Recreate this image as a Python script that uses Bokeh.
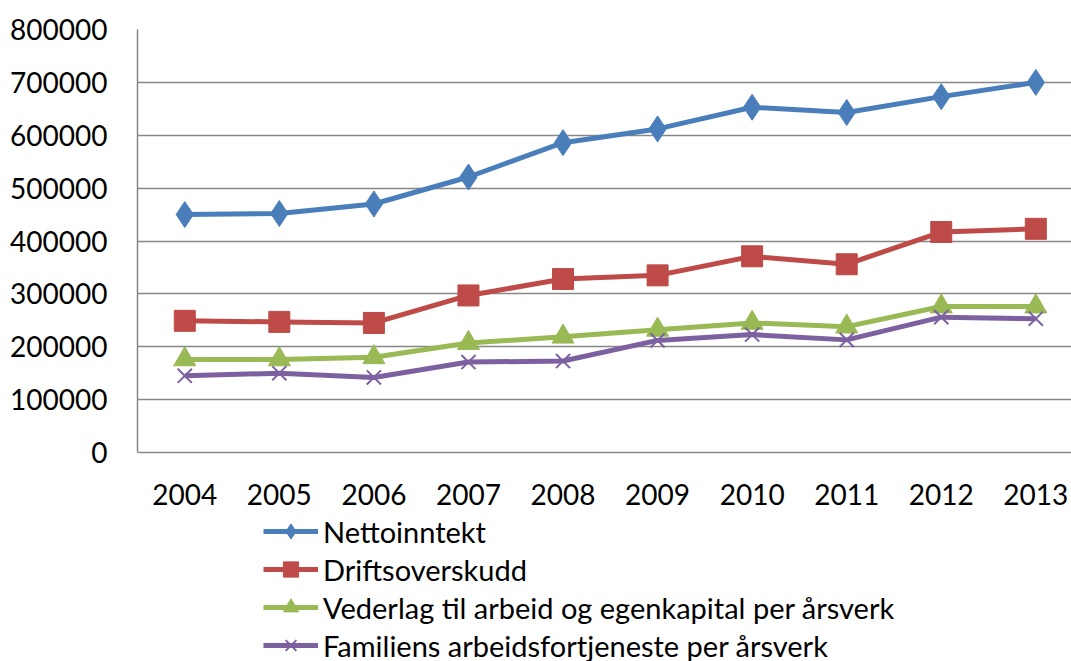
from bokeh.plotting import figure
from bokeh.models import Range1d, FixedTicker, NumeralTickFormatter, Legend, LegendItem, ColumnDataSource
from bokeh.core.properties import value
from bokeh.embed import file_html
from bokeh.resources import INLINE

years = [2004, 2005, 2006, 2007, 2008, 2009, 2010, 2011, 2012, 2013]
year_labels = ["2004", "2005", "2006", "2007", "2008", "2009", "2010", "2011", "2012", "2013"]
nettoinntekt = [450000, 452000, 470000, 521000, 586000, 612000, 653000, 643000, 673000, 700000]
driftsoverskudd = [249000, 247000, 245000, 297000, 328000, 335000, 371000, 356000, 417000, 423000]
vederlag = [176000, 176000, 180000, 207000, 219000, 232000, 245000, 238000, 276000, 276000]
familiens = [145000, 150000, 142000, 171000, 173000, 212000, 223000, 213000, 256000, 253000]
y_ticks = [0, 100000, 200000, 300000, 400000, 500000, 600000, 700000, 800000]

names = ["Nettoinntekt", "Driftsoverskudd",
         "Vederlag til arbeid og egenkapital per årsverk",
         "Familiens arbeidsfortjeneste per årsverk"]
series = [nettoinntekt, driftsoverskudd, vederlag, familiens]
colors = ["#4A7EBB", "#BE4B48", "#98B954", "#7D60A0"]
markers = ["diamond", "square", "triangle", "x"]
msizes = [26, 21, 22, 20]

FONT = "Lato"
PX_PER_UNIT = 423 / 800000.0
FRAME_H = 661 - 29
Y_MIN = 800000 - FRAME_H / PX_PER_UNIT

p = figure(width=1071, height=661, output_backend="svg", toolbar_location=None,
           x_axis_location=None,
           x_range=Range1d(2003.5, 2003.5 + 934 / 94.56), y_range=Range1d(Y_MIN, 800000),
           min_border_left=137, min_border_right=0, min_border_top=29, min_border_bottom=0)
p.outline_line_color = None
p.background_fill_color = "white"
p.border_fill_color = "white"

p.xgrid.grid_line_color = None
p.ygrid.grid_line_color = "#878787"
p.ygrid.grid_line_width = 1.5
p.yaxis.ticker = FixedTicker(ticks=y_ticks)
p.yaxis.formatter = NumeralTickFormatter(format="0")
p.yaxis.bounds = (0, 800000)

ax = p.yaxis[0]
ax.axis_line_color = "#878787"
ax.axis_line_width = 1.5
ax.major_tick_line_color = None
ax.minor_tick_line_color = None
ax.major_tick_out = 0
ax.major_tick_in = 0
ax.major_label_text_font = FONT
ax.major_label_text_font_size = "28px"
ax.major_label_text_color = "black"
ax.major_label_standoff = 30

# category labels under the zero line
lab_src = ColumnDataSource(dict(x=years, y=[0] * len(years), t=year_labels))
p.text(x="x", y="y", text="t", source=lab_src, y_offset=42,
       text_align="center", text_baseline="middle",
       text_font=value(FONT), text_font_size=value("28px"), text_color="black")

items = []
for name, vals, c, m, s in zip(names, series, colors, markers, msizes):
    ln = p.line(years, vals, line_color=c, line_width=5)
    if m == "x":
        mk = p.scatter(years, vals, marker=m, size=s, line_color=c, line_width=2)
    else:
        mk = p.scatter(years, vals, marker=m, size=s, fill_color=c, line_color=c)
    items.append(LegendItem(label=name, renderers=[ln, mk]))

legend = Legend(items=items, location=(126, -3), orientation="vertical",
                glyph_width=55, glyph_height=38, label_height=38, spacing=0,
                padding=0, margin=0, label_standoff=5,
                border_line_color=None, background_fill_alpha=0,
                label_text_font=FONT, label_text_font_size="29px", label_text_color="black")
p.add_layout(legend, "center")

open("out.html", "w").write(file_html(p, INLINE))
